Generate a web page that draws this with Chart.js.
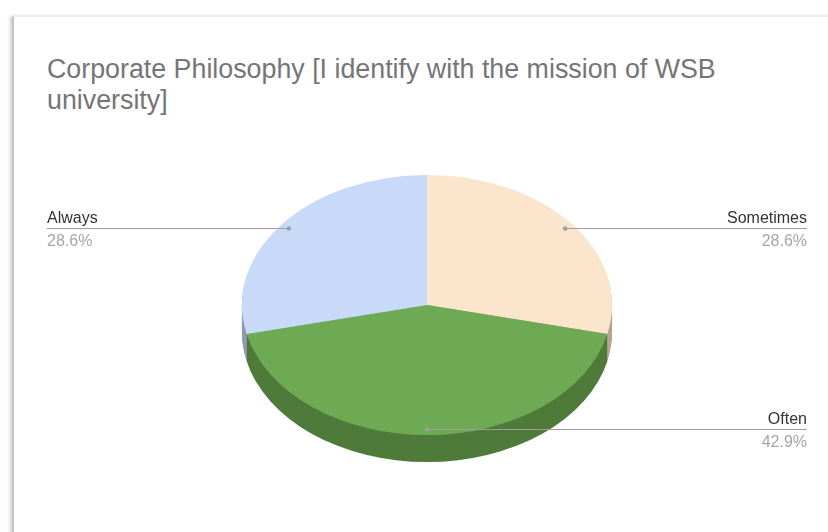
<!DOCTYPE html>
<html>
<head>
<meta charset="utf-8">
<script src="https://cdn.jsdelivr.net/npm/chart.js@4.4.1/dist/chart.umd.min.js"></script>
<style>
  html, body { margin: 0; padding: 0; background: #fff; }
  body { width: 828px; height: 532px; position: relative; overflow: hidden; font-family: "Liberation Sans", Arial, sans-serif; }
  #card { position: absolute; left: 12px; top: 16px; width: 840px; height: 540px;
          border-left: 2px solid #c4c4c4; border-top: 1px solid #ececec;
          box-shadow: -2px 0 3px rgba(0,0,0,0.18); background: #fff; }
  #title { position: absolute; left: 47px; top: 54px; font-size: 26.8px; line-height: 31px; color: #757575; white-space: nowrap; }
  #wrap { position: absolute; left: 0; top: 0; width: 828px; height: 532px; }
</style>
</head>
<body>
<div id="card"></div>
<div id="title">Corporate Philosophy [I identify with the mission of WSB<br>university]</div>
<div id="wrap"><canvas id="c" width="828" height="532"></canvas></div>
<script>
const categories = ['Sometimes', 'Often', 'Always'];
const values = [28.6, 42.9, 28.6];
const percentLabels = ['28.6%', '42.9%', '28.6%'];
const topColors = ['#fce5cd', '#6daa53', '#c9daf8'];
const sideColors = ['#b5a593', '#4f7b3a', '#8e9bb3'];

const SQUASH = 130 / 185;
const DEPTH = 27;

function ellipse(ctx, cx, cy) {
  ctx.translate(cx, cy);
  ctx.scale(1, SQUASH);
  ctx.translate(-cx, -cy);
}

const pie3d = {
  id: 'pie3d',
  beforeDatasetsDraw(chart) {
    const ctx = chart.ctx;
    const meta = chart.getDatasetMeta(0);
    const cx = meta.data[0].x, cy = meta.data[0].y;
    for (let d = DEPTH; d >= 1; d--) {
      ctx.save();
      ctx.translate(0, d);
      ellipse(ctx, cx, cy);
      meta.data.forEach((el, i) => {
        const tmp = Object.create(el);
        tmp.options = Object.assign({}, el.options, { backgroundColor: sideColors[i], borderWidth: 0 });
        el.draw.call(tmp, ctx);
      });
      ctx.restore();
    }
    ctx.save();
    ellipse(ctx, cx, cy);
  },
  afterDatasetsDraw(chart) {
    const ctx = chart.ctx;
    ctx.restore();
    const meta = chart.getDatasetMeta(0);
    meta.data.forEach((el, i) => {
      const mid = (el.startAngle + el.endAngle) / 2;
      const r = el.outerRadius * 0.955;
      const px = el.x + Math.cos(mid) * r;
      const py = Math.round(el.y + Math.sin(mid) * r * SQUASH) + 0.5;
      const right = px >= el.x - 1;
      const ex = right ? 807 : 47;
      ctx.save();
      ctx.strokeStyle = '#9e9e9e';
      ctx.lineWidth = 1;
      ctx.beginPath();
      ctx.moveTo(px, py);
      ctx.lineTo(ex, py);
      ctx.stroke();
      ctx.fillStyle = '#9e9e9e';
      ctx.beginPath();
      ctx.arc(px, py, 2.2, 0, Math.PI * 2);
      ctx.fill();
      ctx.font = '16px "Liberation Sans", Arial, sans-serif';
      ctx.textAlign = right ? 'right' : 'left';
      ctx.textBaseline = 'alphabetic';
      ctx.fillStyle = '#333333';
      ctx.fillText(categories[i], ex, py - 6);
      ctx.fillStyle = '#a6a6a6';
      ctx.fillText(percentLabels[i], ex, py + 17);
      ctx.restore();
    });
  }
};

new Chart(document.getElementById('c'), {
  type: 'pie',
  data: {
    labels: categories,
    datasets: [{
      data: values,
      backgroundColor: topColors,
      borderWidth: 0,
      hoverOffset: 0
    }]
  },
  options: {
    responsive: false,
    animation: false,
    events: [],
    layout: { padding: { left: 242, right: 216, top: 120, bottom: 42 } },
    plugins: {
      legend: { display: false },
      tooltip: { enabled: false },
      title: { display: false }
    }
  },
  plugins: [pie3d]
});
</script>
</body>
</html>
